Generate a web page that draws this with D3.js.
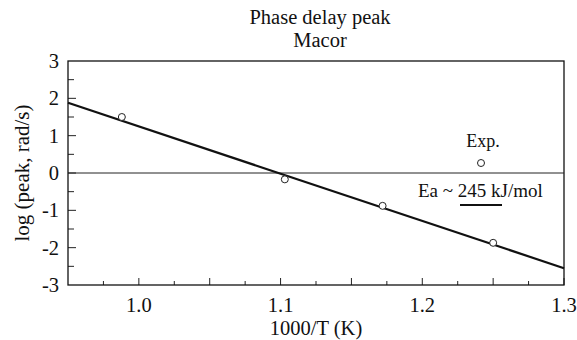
<!DOCTYPE html>
<html>
<head>
<meta charset="utf-8">
<script src="https://cdn.jsdelivr.net/npm/d3@7"></script>
<style>
  body { margin: 0; background: #fff; }
</style>
</head>
<body>
<div id="chart"></div>
<script>
// data
const invT = [0.988, 1.103, 1.172, 1.250];
const logPeak = [1.50, -0.17, -0.88, -1.87];
const fitX = [0.95, 1.30];
const fitY = [1.88, -2.55];
const xTicks = [1.0, 1.1, 1.2, 1.3];
const yTicks = [3, 2, 1, 0, -1, -2, -3];

const width = 577, height = 340;
const margin = {top: 61, right: 13, bottom: 55, left: 68};
const serif = "'Liberation Serif', 'Times New Roman', Times, 'DejaVu Serif', serif";

const svg = d3.select("#chart").append("svg")
    .attr("width", width)
    .attr("height", height)
    .attr("font-family", serif)
    .attr("fill", "#111");

const x = d3.scaleLinear().domain([0.95, 1.30]).range([margin.left, width - margin.right]);
const y = d3.scaleLinear().domain([-3, 3]).range([height - margin.bottom, margin.top]);

// titles
svg.append("text").attr("x", 320).attr("y", 24).attr("text-anchor", "middle")
    .attr("font-size", 20.5).text("Phase delay peak");
svg.append("text").attr("x", 320).attr("y", 47).attr("text-anchor", "middle")
    .attr("font-size", 20.5).text("Macor");

// inward ticks, bottom axis
const xMinor = d3.range(0.975, 1.3001, 0.025);
svg.append("g").selectAll("line")
    .data(xMinor)
    .enter().append("line")
    .attr("x1", d => x(d)).attr("x2", d => x(d))
    .attr("y1", y(-3))
    .attr("y2", (d, i) => y(-3) - (i % 2 === 1 ? 7 : 4))
    .style("stroke", "#222").style("stroke-width", 1);

// inward ticks, left axis
const yMinor = d3.range(-2.5, 3.0, 0.5);
svg.append("g").selectAll("line")
    .data(yMinor)
    .enter().append("line")
    .attr("x1", x(0.95)).attr("x2", d => x(0.95) + (Number.isInteger(d) ? 8 : 6))
    .attr("y1", d => y(d)).attr("y2", d => y(d))
    .style("stroke", "#222").style("stroke-width", 1);

// frame
svg.append("rect")
    .attr("x", margin.left).attr("y", margin.top)
    .attr("width", width - margin.left - margin.right)
    .attr("height", height - margin.top - margin.bottom)
    .style("fill", "none").style("stroke", "#111").style("stroke-width", 1.3);

// tick labels
svg.append("g").selectAll("text")
    .data(xTicks)
    .enter().append("text")
    .attr("x", d => x(d)).attr("y", 311.5)
    .attr("text-anchor", "middle")
    .attr("font-size", 20.5)
    .text(d => d.toFixed(1));

svg.append("g").selectAll("text")
    .data(yTicks)
    .enter().append("text")
    .attr("x", 59).attr("y", d => y(d) + 7)
    .attr("text-anchor", "end")
    .attr("font-size", 20.5)
    .text(d => d);

// axis titles
svg.append("text").attr("x", 316).attr("y", 335).attr("text-anchor", "middle")
    .attr("font-size", 20.5).text("1000/T (K)");
svg.append("text")
    .attr("transform", "translate(29," + y(0) + ") rotate(-90)")
    .attr("text-anchor", "middle")
    .attr("font-size", 21)
    .text("log (peak, rad/s)");

// zero line
svg.append("line")
    .attr("x1", x(0.95)).attr("x2", x(1.30))
    .attr("y1", y(0)).attr("y2", y(0))
    .style("stroke", "#222").style("stroke-width", 1);

// fit line
svg.append("path")
    .datum(fitX.map((d, i) => [d, fitY[i]]))
    .attr("d", d3.line().x(d => x(d[0])).y(d => y(d[1])))
    .style("fill", "none").style("stroke", "#111").style("stroke-width", 2.2);

// experimental points
svg.append("g").selectAll("circle")
    .data(invT.map((d, i) => [d, logPeak[i]]))
    .enter().append("circle")
    .attr("cx", d => x(d[0])).attr("cy", d => y(d[1]))
    .attr("r", 3.5)
    .style("fill", "#fff").style("stroke", "#222").style("stroke-width", 1);

// legend
svg.append("text").attr("x", 483).attr("y", 147).attr("text-anchor", "middle")
    .attr("font-size", 18).text("Exp.");
svg.append("circle").attr("cx", 481).attr("cy", 163).attr("r", 3.5)
    .style("fill", "#fff").style("stroke", "#222").style("stroke-width", 1);
svg.append("text").attr("x", 418).attr("y", 196.5)
    .attr("font-size", 19).text("Ea ~ 245 kJ/mol");
svg.append("line").attr("x1", 460).attr("x2", 502).attr("y1", 205).attr("y2", 205)
    .style("stroke", "#111").style("stroke-width", 2);
</script>
</body>
</html>
